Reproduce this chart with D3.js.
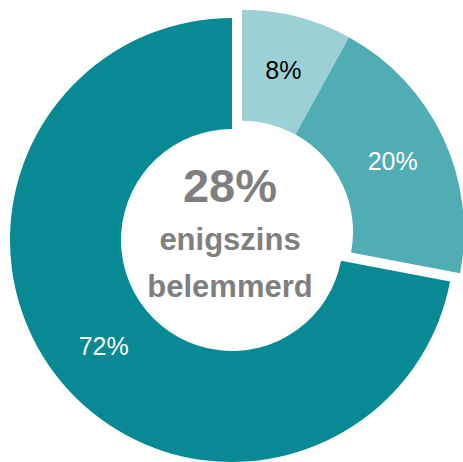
<!DOCTYPE html>
<html>
<head>
<meta charset="utf-8">
<script src="https://cdn.jsdelivr.net/npm/d3@7"></script>
<style>
  html, body { margin: 0; padding: 0; background: #fff; }
  svg { display: block; font-family: "Liberation Sans", Arial, sans-serif; }
</style>
</head>
<body>
<svg id="chart" width="463" height="462"></svg>
<script>
// data
const categories = ["sterk belemmerd", "enigszins belemmerd", "niet belemmerd"];
const values = [8, 20, 72];
const sliceColors = ["#9bd0d4", "#50adb4", "#078a93"];
const labelColors = ["#000000", "#ffffff", "#ffffff"];
const exploded = [true, true, false];
const centerLines = ["28%", "enigszins", "belemmerd"];

// layout
const W = 463, H = 462;
const cx = 232, cy = 240;
const outerR = 222, innerR = 111;
const explodeDist = 13;

const svg = d3.select("#chart");
const g = svg.append("g").attr("transform", `translate(${cx},${cy})`);

const pie = d3.pie().sort(null).value(d => d.value);
const arc = d3.arc().innerRadius(innerR).outerRadius(outerR);

const rows = categories.map((c, i) => ({ name: c, value: values[i], i: i }));
const arcs = pie(rows);

// the exploded group moves out together along its combined mid-angle
const grp = arcs.filter(a => exploded[a.data.i]);
const grpMid = (d3.min(grp, a => a.startAngle) + d3.max(grp, a => a.endAngle)) / 2;
const offX = explodeDist * Math.sin(grpMid);
const offY = -explodeDist * Math.cos(grpMid);

function shift(a) {
  return exploded[a.data.i] ? [offX, offY] : [0, 0];
}

const slices = g.selectAll("g.slice")
  .data(arcs)
  .enter()
  .append("g")
    .attr("class", "slice")
    .attr("transform", d => `translate(${shift(d)[0]},${shift(d)[1]})`);

slices.append("path")
  .attr("d", arc)
  .attr("fill", d => sliceColors[d.data.i]);

slices.append("text")
  .attr("x", d => arc.centroid(d)[0])
  .attr("y", d => arc.centroid(d)[1])
  .attr("dy", "0.36em")
  .attr("text-anchor", "middle")
  .attr("font-size", 25)
  .attr("fill", d => labelColors[d.data.i])
  .text(d => d.data.value + "%");

// center text
const centerY = [202 - cy, 250 - cy, 297 - cy];
const centerSize = [47, 31, 31];
g.selectAll("text.center")
  .data(centerLines)
  .enter()
  .append("text")
    .attr("class", "center")
    .attr("x", -2)
    .attr("y", (d, i) => centerY[i])
    .attr("text-anchor", "middle")
    .attr("font-weight", "bold")
    .attr("font-size", (d, i) => centerSize[i])
    .attr("fill", "#7f7f7f")
    .text(d => d);
</script>
</body>
</html>
